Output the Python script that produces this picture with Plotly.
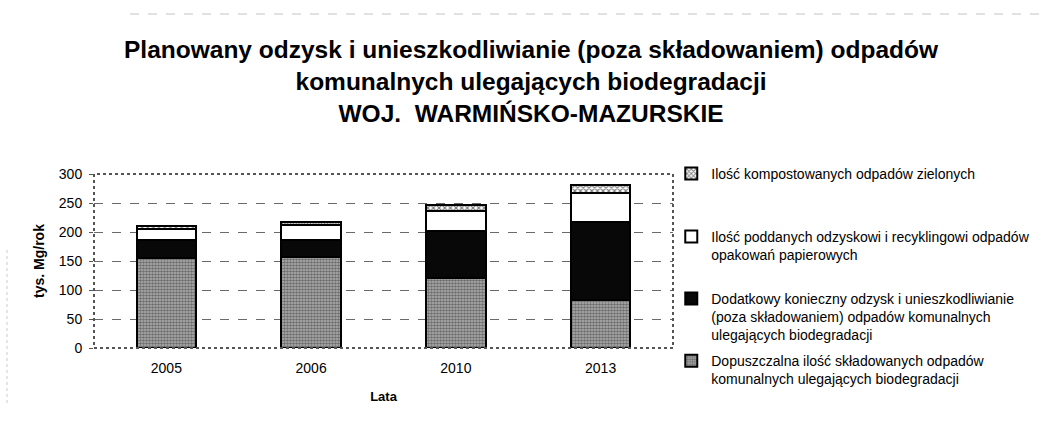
import plotly.graph_objects as go

# Years on the category axis
years = ["2005", "2006", "2010", "2013"]

# Stacked values, thousand Mg per year (bottom to top)
landfill_allowed = [156, 157, 120, 82]
extra_recovery = [30, 29, 81, 135]
paper_recycling = [20, 26, 35, 50]
green_compost = [5, 6, 10, 14]

names = [
    "Dopuszczalna ilość składowanych odpadów<br>komunalnych ulegających biodegradacji",
    "Dodatkowy konieczny odzysk i unieszkodliwianie<br>(poza składowaniem) odpadów komunalnych<br>ulegających biodegradacji",
    "Ilość poddanych odzyskowi i recyklingowi odpadów<br>opakowań papierowych",
    "Ilość kompostowanych odpadów zielonych",
]

FONT = "Liberation Sans, Arial, sans-serif"
outline = dict(color="#000000", width=2)

fig = go.Figure()
fig.add_trace(go.Bar(
    x=years, y=landfill_allowed, name=names[0], legend="legend4",
    marker=dict(color="#808080", line=outline,
                pattern=dict(shape=".", fgcolor="#262626", bgcolor="#b4b4b4",
                             size=3, solidity=0.6)),
))
fig.add_trace(go.Bar(
    x=years, y=extra_recovery, name=names[1], legend="legend3",
    marker=dict(color="#080808", line=outline),
))
fig.add_trace(go.Bar(
    x=years, y=paper_recycling, name=names[2], legend="legend2",
    marker=dict(color="#ffffff", line=outline),
))
fig.add_trace(go.Bar(
    x=years, y=green_compost, name=names[3], legend="legend5",
    marker=dict(color="#777777", line=outline,
                pattern=dict(shape="x", fgcolor="#000000", bgcolor="#ffffff",
                             size=4, solidity=0.5)),
))

# one legend box per series, stacked down the right-hand side
legend_style = dict(
    x=0.997, xanchor="left", yanchor="top", valign="top",
    font=dict(family=FONT, size=14, color="#000000"),
    bgcolor="rgba(0,0,0,0)",
)
legend_tops = {"legend5": 1.092, "legend2": 0.730, "legend3": 0.374, "legend4": 0.017}

title_text = ("<b>Planowany odzysk i unieszkodliwianie (poza składowaniem) odpadów<br>"
              "komunalnych ulegających biodegradacji<br>"
              "WOJ.  WARMIŃSKO-MAZURSKIE</b>")

fig.update_layout(
    width=1048, height=425,
    margin=dict(l=94, r=375, t=174, b=77),
    barmode="stack", bargap=0.59,
    paper_bgcolor="white", plot_bgcolor="white",
    font=dict(family=FONT, size=14, color="#000000"),
    legend=dict(visible=False),
    **{name: dict(legend_style, y=top) for name, top in legend_tops.items()},
    xaxis=dict(
        title=dict(text="<b>Lata</b>", font=dict(size=13), standoff=16),
        showgrid=False, zeroline=False, ticks="", showline=False,
        tickfont=dict(size=14), ticklabelstandoff=10,
    ),
    yaxis=dict(
        title=dict(text="<b>tys. Mg/rok</b>", font=dict(size=14), standoff=10),
        range=[0, 300], dtick=50, tickfont=dict(size=14),
        showgrid=True, gridcolor="#6a6a6a", gridwidth=1, griddash="dash",
        zeroline=False, showline=False, ticks="outside", ticklen=4,
        tickcolor="#555555", ticklabelstandoff=4,
    ),
    annotations=[
        dict(text=title_text, xref="paper", yref="paper",
             x=(531 - 94) / 579, y=(348 - 34) / 174,
             xanchor="center", yanchor="top", showarrow=False,
             font=dict(family=FONT, size=24.5, color="#000000")),
    ],
    shapes=[
        # dotted frame of the plotting area
        dict(type="rect", xref="paper", yref="paper", x0=0, x1=1, y0=0, y1=1,
             line=dict(color="#555555", width=2, dash="dot"), layer="above"),
        # faint dotted border remnants of the sheet
        dict(type="line", xref="paper", yref="paper",
             x0=(130 - 94) / 579, x1=(1048 - 94) / 579,
             y0=(348 - 14) / 174, y1=(348 - 14) / 174,
             line=dict(color="#c4c4c4", width=1, dash="dash")),
        dict(type="line", xref="paper", yref="paper",
             x0=(7 - 94) / 579, x1=(7 - 94) / 579,
             y0=(348 - 250) / 174, y1=(348 - 405) / 174,
             line=dict(color="#cccccc", width=1, dash="dot")),
    ],
)

fig.write_html("out.html")
